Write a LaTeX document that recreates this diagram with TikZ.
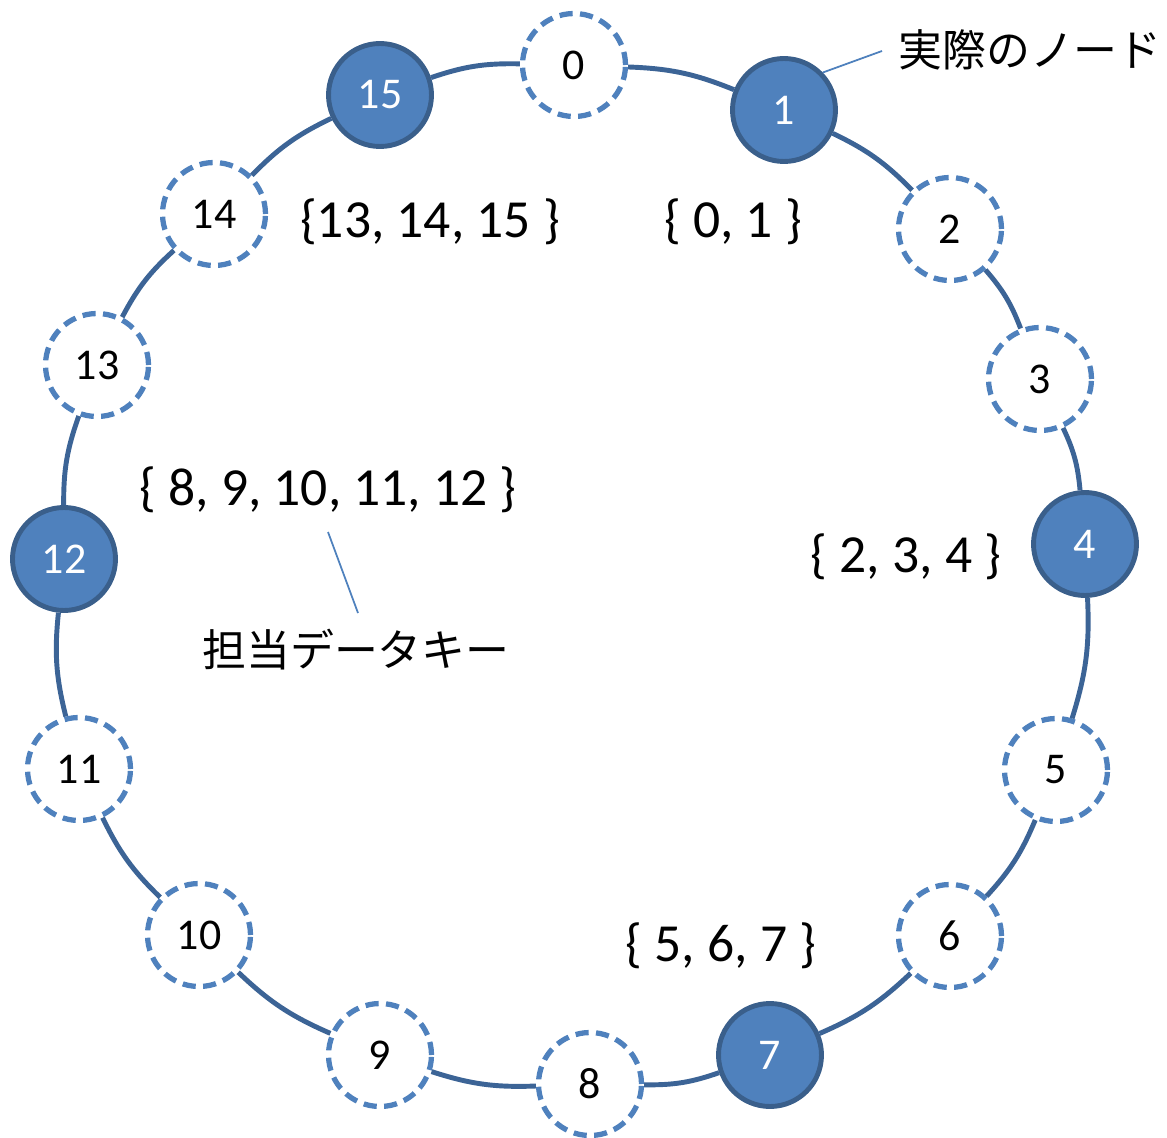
\documentclass[tikz,border=0pt]{standalone}
\usepackage{fontspec}
\setmainfont{Carlito}
\newfontfamily\jp{Noto Sans CJK JP}
\definecolor{ringc}{HTML}{3C6496}
\definecolor{dashc}{HTML}{4F81BD}
\definecolor{fillc}{HTML}{4F81BD}
\definecolor{bordc}{HTML}{3A5F8B}
\begin{document}
\begin{tikzpicture}[x=0.02cm,y=-0.02cm,
  vnode/.style={circle,minimum size=2.06cm,inner sep=0pt,fill=white,draw=dashc,line width=3pt,dash pattern=on 7.5pt off 4.2pt,font=\fontsize{25}{28}\selectfont},
  rnode/.style={circle,minimum size=2.06cm,inner sep=0pt,fill=fillc,draw=bordc,line width=2.8pt,text=white,font=\fontsize{25}{28}\selectfont},
  ring/.style={draw=ringc,line width=2.8pt,bend left=10},
  keys/.style={font=\fontsize{30.5}{34}\selectfont,inner sep=0pt},
  jptext/.style={font=\jp\fontsize{25}{28}\selectfont,inner sep=0pt},
  note/.style={draw=dashc,line width=1pt}]
\useasboundingbox (0,0) rectangle (1167,1138);
\node[vnode] (n0) at (574,65) {0};
\node[rnode] (n1) at (784,110) {1};
\node[vnode] (n2) at (950,229) {2};
\node[vnode] (n3) at (1040,379) {3};
\node[rnode] (n4) at (1085,544) {4};
\node[vnode] (n5) at (1056,770) {5};
\node[vnode] (n6) at (950,936) {6};
\node[rnode] (n7) at (770,1055) {7};
\node[vnode] (n8) at (590,1084) {8};
\node[vnode] (n9) at (380,1055) {9};
\node[vnode] (n10) at (199,935) {10};
\node[vnode] (n11) at (79,769) {11};
\node[rnode] (n12) at (64,559) {12};
\node[vnode] (n13) at (97,365) {13};
\node[vnode] (n14) at (214,214) {14};
\node[rnode] (n15) at (380,95) {15};
\foreach \a/\b in {0/1,1/2,2/3,3/4,4/5,5/6,6/7,7/8,8/9,9/10,10/11,11/12,12/13,13/14,14/15,15/0}
  \draw[ring] (n\a) to (n\b);
\node[keys] (k15) at (430,222) {\{13, 14, 15 \}};
\node[keys] (k1) at (733,222) {\{ 0, 1 \}};
\node[keys] (k12) at (328,490) {\{ 8, 9, 10, 11, 12 \}};
\node[keys] (k4) at (906,557) {\{ 2, 3, 4 \}};
\node[keys] (k7) at (721,946) {\{ 5, 6, 7 \}};
\node[jptext] (jn) at (1030,50) {実際のノード};
\node[jptext] (jk) at (356,650) {担当データキー};
\coordinate (a1) at (882,51);
\coordinate (b1) at (328,532);
\coordinate (b2) at (358,613);
\draw[note] (n1.44) -- (a1);
\draw[note] (b1) -- (b2);
\end{tikzpicture}
\end{document}
